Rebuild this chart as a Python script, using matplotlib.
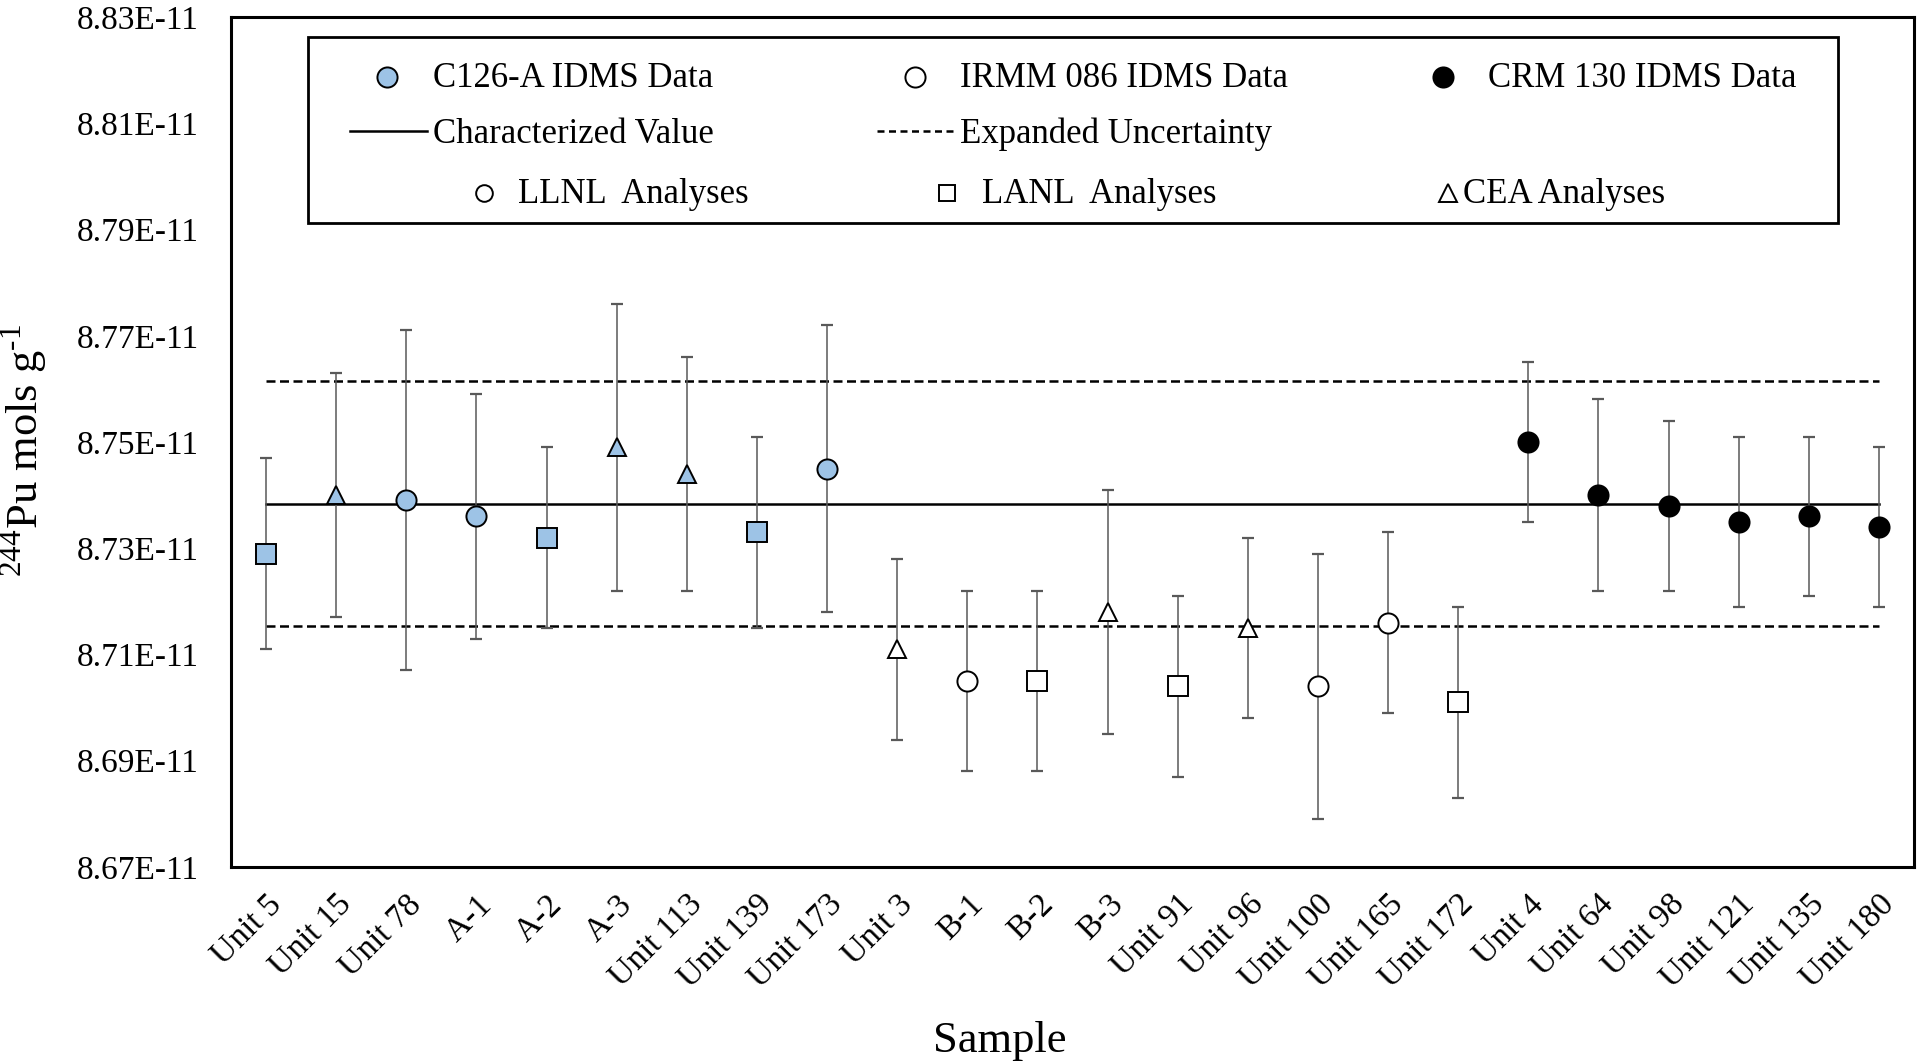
import numpy as np
import matplotlib
matplotlib.use('Agg')
import matplotlib.pyplot as plt
from matplotlib.lines import Line2D
from matplotlib.patches import Rectangle
from matplotlib.ticker import FuncFormatter

plt.rcParams['font.family'] = ['Liberation Serif', 'DejaVu Serif']
plt.rcParams['mathtext.fontset'] = 'custom'
plt.rcParams['mathtext.rm'] = 'Liberation Serif'

# data (values in 1e-11 mol/g)
samples = ["Unit 5", "Unit 15", "Unit 78", "A-1", "A-2", "A-3", "Unit 113", "Unit 139",
           "Unit 173", "Unit 3", "B-1", "B-2", "B-3", "Unit 91", "Unit 96", "Unit 100",
           "Unit 165", "Unit 172", "Unit 4", "Unit 64", "Unit 98", "Unit 121", "Unit 135",
           "Unit 180"]
values = [8.729, 8.740, 8.739, 8.736, 8.732, 8.749, 8.744, 8.733, 8.745,
          8.711, 8.705, 8.705, 8.718, 8.704, 8.715, 8.704, 8.716, 8.701,
          8.750, 8.740, 8.738, 8.735, 8.736, 8.734]
errors = [0.018, 0.023, 0.032, 0.023, 0.017, 0.027, 0.022, 0.018, 0.027,
          0.017, 0.017, 0.017, 0.023, 0.017, 0.017, 0.025, 0.017, 0.018,
          0.015, 0.018, 0.016, 0.016, 0.015, 0.015]
spike = ["C126-A"] * 9 + ["IRMM 086"] * 9 + ["CRM 130"] * 6
lab = ["LANL", "CEA", "LLNL", "LLNL", "LANL", "CEA", "CEA", "LANL", "LLNL",
       "CEA", "LLNL", "LANL", "CEA", "LANL", "CEA", "LLNL", "LLNL", "LANL",
       "", "", "", "", "", ""]
char_value = 8.7384
exp_unc = 0.0230
scale = 1e-11

face = {"C126-A": "#9DC3E6", "IRMM 086": "white", "CRM 130": "black"}
shape = {"LLNL": "o", "LANL": "s", "CEA": "^", "": "o"}
msize = {"o": 14.5, "s": 14.5, "^": 12.5}

fig = plt.figure(figsize=(19.2, 10.61), dpi=100)
ax = fig.add_axes([231 / 1920, 1 - 867 / 1061, (1914 - 231) / 1920, (867 - 17) / 1061])

x = np.arange(len(samples))
y = np.array(values) * scale
yerr = np.array(errors) * scale

ax.errorbar(x, y, yerr=yerr, fmt='none', ecolor='#595959', elinewidth=1.1,
            capsize=4.3, capthick=1.6, zorder=2)

cv = char_value * scale
u = exp_unc * scale
ax.plot([x[0], x[-1]], [cv, cv], color='black', lw=1.8, zorder=1)
for yy in (cv + u, cv - u):
    ax.plot([x[0], x[-1]], [yy, yy], color='black', lw=1.8, dashes=(3.6, 1.8), zorder=1)

for i in range(len(samples)):
    m = shape[lab[i]]
    ax.plot(x[i], y[i], marker=m, ms=msize[m], mfc=face[spike[i]], mec='black',
            mew=1.4, ls='none', zorder=3)

ax.set_xlim(-0.5, len(samples) - 0.5)
ax.set_ylim(8.67e-11, 8.83e-11)
ax.set_yticks(np.arange(8.67, 8.8301, 0.02) * scale)
ax.yaxis.set_major_formatter(FuncFormatter(lambda v, p: f"{v:.2E}"))
ax.set_xticks(x)
ax.set_xticklabels(samples, rotation=45, ha='right', va='top', rotation_mode='anchor')
ax.tick_params(axis='x', length=0, pad=16, labelsize=24)
ax.tick_params(axis='y', length=0, pad=23, labelsize=24)
for s in ax.spines.values():
    s.set_linewidth(2.2)

ax.set_ylabel(r"$^{244}$Pu mols g$^{\text{-}1}$", fontsize=32)
ax.yaxis.set_label_coords(-0.1075, 0.49)
ax.set_xlabel("Sample", fontsize=32)
ax.xaxis.set_label_coords(0.457, -0.181)


# legend drawn by hand (pixel layout of the original)
def fx(p):
    return p / 1920


def fy(p):
    return 1 - p / 1061


fig.add_artist(Rectangle((fx(308), fy(223)), fx(1838) - fx(308), fy(37) - fy(223),
                         transform=fig.transFigure, fill=False, lw=2, ec='black'))

marker_items = [
    ("C126-A IDMS Data", 'o', face["C126-A"], 14.5, 387, 433, 77, 87),
    ("IRMM 086 IDMS Data", 'o', face["IRMM 086"], 14.5, 915, 960, 77, 87),
    ("CRM 130 IDMS Data", 'o', face["CRM 130"], 14.5, 1443, 1488, 77, 87),
    ("LLNL  Analyses", 'o', 'white', 12, 484, 518, 193, 203),
    ("LANL  Analyses", 's', 'white', 12, 947, 982, 193, 203),
    ("CEA Analyses", '^', 'white', 12.5, 1448, 1463, 193, 203),
]
for label, m, fc, ms, mx, tx, my, base in marker_items:
    fig.add_artist(Line2D([fx(mx)], [fy(my)], marker=m, ms=ms, mfc=fc, mec='black',
                          mew=1.4, ls='none', transform=fig.transFigure))
    fig.text(fx(tx), fy(base), label, fontsize=25, va='baseline')

fig.add_artist(Line2D([fx(350), fx(427)], [fy(131), fy(131)], color='black', lw=1.8,
                      transform=fig.transFigure))
fig.text(fx(433), fy(143), "Characterized Value", fontsize=25, va='baseline')
fig.add_artist(Line2D([fx(877), fx(957)], [fy(131), fy(131)], color='black', lw=1.8,
                      dashes=(2.8, 1.8), transform=fig.transFigure))
fig.text(fx(960), fy(143), "Expanded Uncertainty", fontsize=25, va='baseline')

fig.savefig("out.png", dpi=100)
